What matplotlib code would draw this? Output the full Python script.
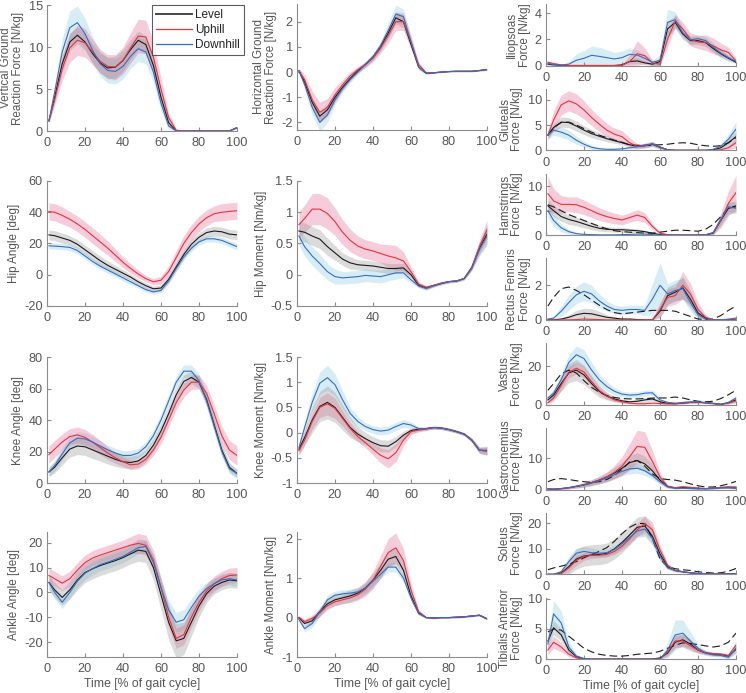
import numpy as np
import matplotlib
matplotlib.use("Agg")
import matplotlib.pyplot as plt

plt.rcParams['font.family'] = ['Liberation Sans', 'DejaVu Sans']
plt.rcParams['axes.unicode_minus'] = False

# ---------------- data (x = % gait cycle) ----------------
gait_x = [1, 4, 8, 12, 16, 20, 24, 28, 32, 36, 40, 44, 48, 52, 56, 60, 64, 68, 72, 76, 80, 84, 88, 92, 96, 100]

# Vertical GRF
vgrf_level = [1.2, 4.0, 8.0, 10.6, 11.4, 10.6, 9.2, 8.1, 7.5, 7.6, 8.4, 9.7, 10.8, 10.3, 7.8, 4.0, 1.0, 0, 0, 0, 0, 0, 0, 0, 0, 0.4]
vgrf_up = [1.2, 3.7, 7.4, 9.9, 10.8, 10.5, 9.4, 8.3, 7.7, 7.6, 8.4, 9.9, 11.3, 11.2, 8.8, 5.0, 1.6, 0.1, 0, 0, 0, 0, 0, 0, 0, 0.4]
vgrf_down = [1.2, 4.6, 9.4, 12.3, 12.9, 11.6, 9.6, 8.0, 7.2, 7.1, 7.7, 8.9, 9.8, 9.4, 7.0, 3.3, 0.6, 0, 0, 0, 0, 0, 0, 0, 0, 0.4]
vgrf_level_sd = [0.2, 0.6, 1.0, 1.0, 1.0, 1.0, 1.1, 1.2, 1.3, 1.3, 1.3, 1.2, 1.1, 1.0, 1.0, 0.8, 0.4, 0, 0, 0, 0, 0, 0, 0, 0, 0.1]
vgrf_up_sd = [0.2, 0.7, 1.4, 1.7, 1.8, 1.7, 1.5, 1.4, 1.4, 1.5, 1.6, 1.8, 2.0, 2.0, 1.8, 1.3, 0.6, 0.1, 0, 0, 0, 0, 0, 0, 0, 0.1]
vgrf_down_sd = [0.2, 0.8, 1.6, 2.0, 2.0, 1.8, 1.6, 1.5, 1.5, 1.5, 1.5, 1.5, 1.5, 1.4, 1.2, 0.9, 0.4, 0, 0, 0, 0, 0, 0, 0, 0, 0.1]

# Horizontal GRF
hgrf_level = [0.05, -0.4, -1.2, -1.75, -1.5, -1.0, -0.6, -0.25, 0.05, 0.3, 0.6, 1.0, 1.55, 2.15, 2.0, 1.1, 0.2, -0.05, -0.03, 0.0, 0.02, 0.03, 0.03, 0.03, 0.06, 0.1]
hgrf_up = [0.05, -0.3, -1.1, -1.6, -1.4, -0.9, -0.5, -0.15, 0.1, 0.3, 0.55, 0.95, 1.45, 2.0, 2.0, 1.2, 0.3, -0.03, -0.03, 0.0, 0.02, 0.03, 0.03, 0.03, 0.06, 0.1]
hgrf_down = [0.05, -0.5, -1.4, -2.0, -1.7, -1.1, -0.65, -0.3, 0.0, 0.3, 0.6, 1.05, 1.65, 2.3, 2.2, 1.2, 0.2, -0.05, -0.03, 0.0, 0.02, 0.03, 0.03, 0.03, 0.06, 0.1]
hgrf_level_sd = [0.05, 0.1, 0.15, 0.2, 0.2, 0.15, 0.12, 0.1, 0.1, 0.1, 0.12, 0.15, 0.2, 0.25, 0.25, 0.2, 0.1, 0.03, 0.02, 0.02, 0.02, 0.02, 0.02, 0.02, 0.02, 0.03]
hgrf_up_sd = [0.1, 0.2, 0.35, 0.4, 0.35, 0.3, 0.2, 0.15, 0.12, 0.12, 0.15, 0.2, 0.3, 0.35, 0.35, 0.25, 0.1, 0.03, 0.02, 0.02, 0.02, 0.02, 0.02, 0.02, 0.02, 0.03]
hgrf_down_sd = [0.05, 0.15, 0.3, 0.35, 0.3, 0.2, 0.15, 0.12, 0.1, 0.1, 0.12, 0.18, 0.3, 0.35, 0.3, 0.2, 0.1, 0.03, 0.02, 0.02, 0.02, 0.02, 0.02, 0.02, 0.02, 0.03]

# Hip angle
hipang_level = [25.5, 25, 23.5, 22, 19.5, 16, 12.5, 9, 6, 3.5, 1, -1.5, -4.5, -7, -9, -8.5, -3, 5, 13, 19.5, 24, 27, 28, 27.5, 26, 25.5]
hipang_up = [40.5, 40, 38, 35.5, 32.5, 29, 25, 21, 17, 12.5, 8, 4, 0.5, -2.5, -4.5, -3.5, 2, 11, 20, 27, 32.5, 36.5, 39, 40, 40.5, 41]
hipang_down = [18.5, 18.3, 18, 17.5, 15.5, 12, 8.5, 5.5, 3, 0.5, -2, -4.5, -7, -9.5, -11, -10, -4, 4, 11.5, 17, 21, 23, 23, 22, 20, 18]
hipang_level_sd = [3.2, 3.2, 3.2, 3.0, 3.0, 3.0, 3.0, 3.0, 2.8, 2.5, 2.2, 2.0, 1.8, 1.8, 1.8, 2.0, 2.2, 2.5, 2.8, 3.0, 3.0, 3.0, 3.0, 3.0, 3.0, 3.0]
hipang_up_sd = [5.5, 5.5, 5.5, 5.0, 5.0, 5.0, 5.0, 5.0, 4.5, 4.0, 3.5, 3.0, 2.5, 2.0, 2.0, 2.5, 3.5, 4.5, 5.0, 5.0, 5.0, 5.0, 5.0, 5.5, 5.5, 5.5]
hipang_down_sd = [2.0, 2.0, 2.0, 2.0, 2.0, 2.0, 2.0, 2.0, 2.0, 2.0, 2.0, 1.8, 1.5, 1.5, 1.5, 1.5, 1.8, 2.0, 2.0, 2.0, 2.0, 2.0, 2.0, 2.0, 2.0, 2.0]

# Hip moment
hipmom_level = [0.7, 0.68, 0.62, 0.57, 0.45, 0.35, 0.25, 0.19, 0.16, 0.15, 0.14, 0.12, 0.1, 0.1, 0.11, 0.0, -0.17, -0.21, -0.17, -0.14, -0.11, -0.1, -0.06, 0.12, 0.42, 0.65]
hipmom_up = [0.8, 0.9, 1.05, 1.05, 0.98, 0.85, 0.68, 0.55, 0.46, 0.41, 0.38, 0.34, 0.3, 0.27, 0.22, 0.05, -0.15, -0.2, -0.17, -0.13, -0.11, -0.1, -0.06, 0.12, 0.45, 0.72]
hipmom_down = [0.62, 0.45, 0.3, 0.18, 0.05, -0.03, -0.05, -0.04, -0.03, -0.01, -0.02, -0.03, 0.0, 0.03, 0.03, -0.08, -0.18, -0.22, -0.18, -0.14, -0.11, -0.1, -0.06, 0.1, 0.4, 0.62]
hipmom_level_sd = [0.15, 0.15, 0.15, 0.15, 0.14, 0.12, 0.1, 0.1, 0.08, 0.08, 0.08, 0.08, 0.08, 0.08, 0.07, 0.05, 0.03, 0.03, 0.02, 0.02, 0.02, 0.02, 0.02, 0.04, 0.1, 0.15]
hipmom_up_sd = [0.2, 0.22, 0.25, 0.25, 0.25, 0.22, 0.2, 0.18, 0.16, 0.15, 0.15, 0.15, 0.18, 0.2, 0.15, 0.08, 0.04, 0.03, 0.02, 0.02, 0.02, 0.02, 0.02, 0.04, 0.1, 0.15]
hipmom_down_sd = [0.15, 0.15, 0.15, 0.15, 0.13, 0.12, 0.1, 0.1, 0.1, 0.1, 0.1, 0.1, 0.1, 0.1, 0.08, 0.05, 0.03, 0.03, 0.02, 0.02, 0.02, 0.02, 0.02, 0.04, 0.1, 0.15]

# Knee angle
kneeang_level = [7, 10, 16, 21.5, 23.5, 23, 21, 19, 17, 15, 13.5, 13, 14, 17.5, 24, 33, 44, 56, 64.5, 67, 64, 53, 37, 21, 10, 6]
kneeang_up = [18, 21.5, 26, 29.5, 30.5, 29, 26, 22.5, 19, 16, 13.5, 11.5, 12, 15, 21, 29, 40, 51, 59, 64, 64, 57, 44, 30, 21, 17.5]
kneeang_down = [7, 11, 18.5, 25.5, 28.5, 28, 26, 23.5, 21, 19, 17.5, 17.5, 19, 23, 30, 40, 52, 64, 71, 71, 65, 52, 36, 20, 9, 6]
kneeang_level_sd = [3.0, 3.5, 4.5, 5.0, 5.5, 5.5, 5.5, 5.0, 5.0, 4.5, 4.0, 4.0, 4.0, 4.0, 4.0, 4.0, 4.0, 4.0, 4.0, 4.0, 4.0, 4.0, 4.0, 3.5, 3.0, 2.5]
kneeang_up_sd = [5.5, 5.5, 5.0, 5.0, 5.0, 5.0, 5.0, 4.5, 4.0, 3.5, 3.0, 3.0, 3.0, 3.0, 3.5, 4.0, 4.5, 4.5, 4.5, 4.5, 4.5, 5.0, 5.5, 6.0, 6.0, 6.0]
kneeang_down_sd = [3.0, 3.5, 4.0, 4.0, 4.0, 4.0, 3.5, 3.5, 3.0, 3.0, 3.0, 3.0, 3.0, 3.0, 3.5, 4.0, 4.0, 4.0, 4.0, 4.0, 4.0, 4.0, 4.0, 3.5, 3.0, 3.0]

# Knee moment
kneemom_level = [-0.33, -0.1, 0.25, 0.52, 0.6, 0.5, 0.3, 0.1, -0.03, -0.12, -0.2, -0.26, -0.27, -0.18, -0.05, 0.04, 0.07, 0.08, 0.1, 0.09, 0.06, 0.02, -0.03, -0.15, -0.35, -0.36]
kneemom_up = [-0.36, -0.15, 0.22, 0.5, 0.57, 0.48, 0.28, 0.08, -0.08, -0.2, -0.33, -0.45, -0.52, -0.4, -0.15, 0.02, 0.05, 0.07, 0.1, 0.09, 0.06, 0.02, -0.03, -0.15, -0.35, -0.37]
kneemom_down = [-0.3, 0.1, 0.6, 0.98, 1.09, 0.95, 0.65, 0.38, 0.22, 0.12, 0.06, 0.03, 0.05, 0.12, 0.18, 0.15, 0.08, 0.08, 0.1, 0.09, 0.06, 0.02, -0.03, -0.15, -0.35, -0.35]
kneemom_level_sd = [0.1, 0.15, 0.25, 0.3, 0.33, 0.3, 0.25, 0.2, 0.15, 0.12, 0.12, 0.12, 0.12, 0.1, 0.08, 0.06, 0.04, 0.03, 0.03, 0.03, 0.03, 0.03, 0.03, 0.04, 0.06, 0.08]
kneemom_up_sd = [0.1, 0.1, 0.15, 0.2, 0.22, 0.2, 0.15, 0.12, 0.1, 0.1, 0.12, 0.15, 0.18, 0.18, 0.12, 0.06, 0.04, 0.03, 0.03, 0.03, 0.03, 0.03, 0.03, 0.04, 0.06, 0.08]
kneemom_down_sd = [0.1, 0.12, 0.18, 0.22, 0.25, 0.22, 0.18, 0.12, 0.1, 0.08, 0.08, 0.08, 0.08, 0.08, 0.08, 0.06, 0.04, 0.03, 0.03, 0.03, 0.03, 0.03, 0.03, 0.04, 0.06, 0.08]

# Ankle angle
ankang_level = [4, 1, -2, 1, 5, 8, 9.5, 10.8, 11.8, 12.8, 14, 15.5, 17, 16.5, 10, -1, -12, -19.5, -18.5, -12, -5.5, -0.5, 2.5, 4, 5, 4.7]
ankang_up = [6.8, 5.5, 3.7, 5.5, 9, 12, 13.8, 15, 16, 17, 18, 19, 19.7, 19, 13, 2, -10, -18.5, -17, -10, -4, 0.5, 3.5, 5.5, 6.8, 7]
ankang_down = [4, 0, -4, 0, 4.5, 7.7, 9.6, 11.2, 12.2, 13.3, 14.5, 16.2, 18, 18.5, 12, 2, -7, -12, -11, -6, -1.5, 1.5, 3.5, 5, 5.5, 5]
ankang_level_sd = [3, 3, 3, 3.5, 4, 4, 4, 4, 4, 4, 4, 4, 4.5, 4.5, 5, 6, 7, 7, 6.5, 5.5, 4.5, 3.5, 3, 3, 3, 3]
ankang_up_sd = [3, 3, 3, 3, 3, 3, 3, 3, 3, 3, 3, 3.5, 4, 4, 4, 4, 4, 4, 4, 4, 3.5, 3, 3, 3, 3, 3]
ankang_down_sd = [2.5, 2.5, 2.5, 2.5, 2.5, 2.5, 2.5, 2.5, 2.5, 2.5, 2.5, 2.5, 2.5, 2.5, 3, 3.5, 4, 4, 4, 3.5, 3, 2.5, 2.5, 2.5, 2.5, 2.5]

# Ankle moment
ankmom_level = [0, -0.15, -0.08, 0.15, 0.35, 0.45, 0.5, 0.55, 0.62, 0.75, 0.95, 1.2, 1.48, 1.55, 1.2, 0.55, 0.12, 0.0, -0.01, 0.0, 0.0, 0.01, 0.02, 0.04, 0.06, -0.03]
ankmom_up = [0.0, -0.1, -0.02, 0.12, 0.3, 0.4, 0.45, 0.5, 0.58, 0.72, 0.95, 1.3, 1.65, 1.77, 1.45, 0.7, 0.15, 0.0, -0.01, 0.0, 0.0, 0.01, 0.02, 0.04, 0.06, -0.03]
ankmom_down = [-0.05, -0.28, -0.15, 0.15, 0.45, 0.57, 0.6, 0.62, 0.65, 0.75, 0.92, 1.1, 1.28, 1.28, 1.0, 0.5, 0.1, 0.0, -0.01, 0.0, 0.0, 0.01, 0.02, 0.04, 0.06, -0.03]
ankmom_level_sd = [0.05, 0.06, 0.08, 0.1, 0.12, 0.14, 0.15, 0.15, 0.15, 0.16, 0.18, 0.2, 0.2, 0.2, 0.18, 0.12, 0.05, 0.02, 0.02, 0.02, 0.02, 0.02, 0.02, 0.02, 0.02, 0.03]
ankmom_up_sd = [0.05, 0.06, 0.08, 0.1, 0.1, 0.1, 0.1, 0.12, 0.14, 0.18, 0.22, 0.28, 0.35, 0.38, 0.3, 0.15, 0.05, 0.02, 0.02, 0.02, 0.02, 0.02, 0.02, 0.02, 0.02, 0.03]
ankmom_down_sd = [0.05, 0.08, 0.1, 0.12, 0.12, 0.1, 0.1, 0.1, 0.1, 0.1, 0.1, 0.12, 0.12, 0.12, 0.1, 0.08, 0.04, 0.02, 0.02, 0.02, 0.02, 0.02, 0.02, 0.02, 0.02, 0.03]

# Iliopsoas
ilio_level = [0.1, 0.05, 0.02, 0, 0, 0, 0, 0, 0, 0, 0.05, 0.3, 0.35, 0.2, 0.1, 0.3, 2.8, 3.3, 2.4, 1.9, 1.9, 1.75, 1.3, 0.9, 0.55, 0.25]
ilio_up = [0.25, 0.15, 0.05, 0, 0, 0, 0, 0, 0, 0, 0.02, 0.3, 0.9, 0.75, 0.2, 0.1, 2.0, 3.4, 2.8, 2.0, 1.8, 1.75, 1.5, 1.2, 1.0, 0.35]
ilio_down = [0.15, 0.08, 0.02, 0.1, 0.4, 0.55, 0.78, 0.7, 0.6, 0.5, 0.6, 0.85, 0.8, 0.55, 0.25, 0.4, 3.3, 3.5, 2.5, 1.95, 2.05, 1.9, 1.4, 0.95, 0.6, 0.3]
ilio_level_sd = [0.05, 0.05, 0.02, 0, 0, 0, 0, 0, 0, 0, 0.05, 0.2, 0.2, 0.15, 0.1, 0.3, 0.6, 0.5, 0.4, 0.3, 0.3, 0.3, 0.3, 0.3, 0.2, 0.1]
ilio_up_sd = [0.1, 0.05, 0.02, 0, 0, 0, 0, 0, 0, 0, 0.05, 0.5, 1.0, 0.6, 0.2, 0.2, 0.6, 0.5, 0.5, 0.5, 0.5, 0.6, 0.6, 0.5, 0.4, 0.2]
ilio_down_sd = [0.1, 0.05, 0.05, 0.2, 0.5, 0.6, 0.7, 0.7, 0.6, 0.5, 0.5, 0.5, 0.4, 0.3, 0.2, 0.4, 1.0, 0.6, 0.4, 0.3, 0.3, 0.3, 0.3, 0.3, 0.2, 0.1]

# Gluteals
glut_level = [3.0, 4.5, 5.6, 5.5, 4.8, 4.0, 3.3, 2.8, 2.3, 1.9, 1.5, 1.1, 0.8, 0.9, 1.2, 0.6, 0.1, 0, 0, 0, 0, 0, 0.1, 0.5, 1.5, 2.7]
glut_up = [3.0, 6.0, 9.0, 9.8, 9.2, 8.0, 6.5, 5.2, 4.0, 3.2, 2.7, 1.5, 0.8, 0.9, 1.3, 0.6, 0.1, 0, 0, 0, 0, 0, 0, 0.1, 0.5, 1.5]
glut_down = [3.0, 4.0, 3.6, 3.0, 2.0, 1.2, 0.6, 0.3, 0.2, 0.2, 0.3, 0.5, 0.7, 1.0, 1.3, 0.6, 0.1, 0, 0, 0, 0, 0, 0.2, 0.8, 2.2, 4.2]
glut_emg = [3.0, 4.5, 5.5, 5.6, 5.0, 4.3, 3.6, 3.0, 2.5, 2.0, 1.6, 1.1, 1.0, 1.0, 1.0, 1.1, 1.2, 1.4, 1.5, 1.4, 1.1, 0.9, 0.8, 0.9, 1.5, 2.5]
glut_level_sd = [0.5, 0.8, 1.0, 1.0, 1.0, 0.9, 0.8, 0.7, 0.6, 0.5, 0.4, 0.3, 0.3, 0.4, 0.5, 0.3, 0.1, 0, 0, 0, 0, 0, 0.1, 0.3, 0.8, 1.0]
glut_up_sd = [1.0, 1.8, 2.0, 2.0, 2.0, 1.8, 1.6, 1.5, 1.3, 1.2, 1.2, 1.0, 0.5, 0.4, 0.4, 0.3, 0.1, 0, 0, 0, 0, 0, 0, 0.1, 0.4, 1.0]
glut_down_sd = [0.8, 1.0, 1.0, 1.0, 0.8, 0.6, 0.4, 0.3, 0.2, 0.2, 0.2, 0.3, 0.4, 0.5, 0.5, 0.3, 0.1, 0, 0, 0, 0, 0, 0.2, 0.5, 1.0, 1.5]

# Hamstrings
ham_level = [6.0, 5.0, 3.8, 3.2, 2.8, 2.3, 1.8, 1.4, 1.2, 1.1, 1.1, 1.0, 0.9, 0.7, 0.4, 0.1, 0, 0, 0, 0, 0, 0.05, 0.4, 3.0, 5.5, 5.8]
ham_up = [8.5, 7.0, 6.3, 6.3, 6.2, 5.7, 5.0, 4.3, 3.8, 3.4, 3.1, 3.6, 4.1, 3.6, 1.8, 0.4, 0.1, 0, 0, 0, 0, 0.05, 0.5, 3.0, 6.5, 8.7]
ham_down = [5.0, 3.0, 1.5, 0.7, 0.3, 0.15, 0.1, 0.05, 0.05, 0.05, 0.1, 0.15, 0.2, 0.2, 0.1, 0, 0, 0, 0, 0, 0, 0.05, 0.5, 3.2, 5.8, 5.5]
ham_emg = [6.2, 5.8, 5.0, 4.2, 3.6, 3.0, 2.4, 1.8, 1.3, 0.9, 0.7, 0.6, 0.5, 0.4, 0.4, 0.6, 0.8, 1.0, 1.0, 0.9, 0.8, 1.2, 2.2, 3.8, 5.5, 6.0]
ham_level_sd = [1.2, 1.2, 1.0, 1.0, 0.9, 0.8, 0.7, 0.6, 0.5, 0.5, 0.5, 0.4, 0.4, 0.3, 0.2, 0.1, 0, 0, 0, 0, 0, 0.05, 0.3, 1.0, 1.2, 1.2]
ham_up_sd = [3.5, 2.5, 1.8, 1.5, 1.6, 1.5, 1.4, 1.3, 1.2, 1.1, 1.0, 1.0, 1.1, 1.0, 0.6, 0.2, 0.1, 0, 0, 0, 0, 0.05, 0.4, 1.5, 2.5, 3.5]
ham_down_sd = [1.5, 1.2, 0.8, 0.5, 0.3, 0.15, 0.1, 0.05, 0.05, 0.05, 0.1, 0.1, 0.1, 0.1, 0.05, 0, 0, 0, 0, 0, 0, 0.05, 0.4, 1.0, 1.0, 1.0]

# Rectus femoris
rf_level = [0, 0, 0.05, 0.15, 0.3, 0.38, 0.35, 0.25, 0.15, 0.1, 0.05, 0.05, 0.02, 0.0, 0.0, 0.5, 1.4, 1.6, 1.85, 1.2, 0.4, 0.1, 0, 0, 0, 0.02]
rf_up = [0, 0, 0, 0, 0.02, 0.05, 0.03, 0.02, 0, 0, 0, 0, 0, 0, 0.0, 0.6, 1.3, 1.4, 2.0, 1.5, 0.6, 0.15, 0.0, 0, 0, 0.02]
rf_down = [0.05, 0.1, 0.5, 1.0, 1.45, 1.65, 1.5, 1.1, 0.8, 0.6, 0.55, 0.6, 0.6, 0.55, 1.2, 2.0, 1.5, 1.7, 1.8, 1.0, 0.3, 0.05, 0, 0, 0.05, 0.1]
rf_emg = [0.8, 1.3, 1.8, 1.9, 1.7, 1.45, 1.15, 0.85, 0.6, 0.42, 0.35, 0.4, 0.45, 0.5, 0.55, 0.55, 0.55, 0.5, 0.35, 0.2, 0.05, 0.02, 0.05, 0.25, 0.55, 0.8]
rf_level_sd = [0, 0, 0.05, 0.15, 0.25, 0.3, 0.3, 0.25, 0.15, 0.1, 0.05, 0.05, 0.02, 0.0, 0.05, 0.4, 0.5, 0.5, 0.65, 0.5, 0.3, 0.1, 0, 0, 0, 0.02]
rf_up_sd = [0, 0, 0, 0, 0.02, 0.05, 0.03, 0.02, 0, 0, 0, 0, 0, 0, 0.05, 0.4, 0.5, 0.5, 0.8, 0.6, 0.4, 0.15, 0.05, 0, 0, 0.02]
rf_down_sd = [0.05, 0.1, 0.3, 0.45, 0.5, 0.55, 0.5, 0.4, 0.3, 0.25, 0.25, 0.25, 0.25, 0.3, 0.9, 1.3, 0.6, 0.6, 0.6, 0.5, 0.2, 0.05, 0, 0, 0.05, 0.1]

# Vastus
vas_level = [2.5, 5, 11, 16.5, 18, 15.5, 11, 7, 4.5, 3, 2, 1.5, 1.8, 2.5, 3.0, 1.5, 0.7, 0.5, 0.8, 1.2, 1.3, 1.0, 0.6, 0.2, 1.0, 2.5]
vas_up = [1.0, 3.5, 10, 17, 19, 17, 12, 7.5, 4.5, 2.5, 1.5, 0.8, 0.5, 0.5, 0.8, 0.6, 0.4, 0.5, 0.8, 1.2, 1.3, 1.0, 0.6, 0.2, 0.8, 2.0]
vas_down = [3.5, 6, 13, 22, 26, 24, 18, 13, 9.5, 7, 5.5, 5.0, 5.2, 6.0, 6.2, 2.5, 1.2, 0.8, 1.2, 1.5, 1.5, 1.2, 0.8, 0.3, 1.2, 3.5]
vas_emg = [7.5, 11, 16, 18, 16.5, 12.5, 9, 6.5, 4.8, 3.8, 3.2, 3.0, 3.0, 3.2, 3.4, 3.5, 3.5, 4.0, 3.5, 2.5, 1.8, 1.5, 1.8, 3.2, 5.2, 7.5]
vas_level_sd = [1.5, 2.5, 4.0, 5.0, 5.5, 5.0, 4.0, 3.0, 2.0, 1.5, 1.0, 0.8, 1.0, 1.2, 1.2, 0.8, 0.4, 0.3, 0.4, 0.5, 0.5, 0.4, 0.3, 0.2, 0.6, 1.2]
vas_up_sd = [0.8, 1.5, 2.5, 3.0, 3.0, 3.0, 2.5, 2.0, 1.5, 1.0, 0.6, 0.4, 0.3, 0.3, 0.4, 0.3, 0.2, 0.3, 0.4, 0.5, 0.5, 0.4, 0.3, 0.2, 0.5, 1.0]
vas_down_sd = [1.5, 2.0, 3.0, 4.0, 4.5, 4.5, 4.0, 3.0, 2.5, 2.0, 1.5, 1.5, 1.5, 1.5, 1.5, 1.0, 0.5, 0.4, 0.5, 0.5, 0.5, 0.4, 0.3, 0.2, 0.6, 1.5]

# Gastrocnemius
gas_level = [0.2, 0.1, 0.3, 0.6, 1.0, 1.5, 2.2, 3.0, 4.0, 5.3, 6.8, 8.6, 9.3, 8.2, 6.0, 3.0, 1.0, 0.5, 0.6, 0.5, 0.4, 0.3, 0.4, 0.6, 0.6, 0.5]
gas_up = [0.2, 0.1, 0.2, 0.5, 1.0, 1.5, 2.2, 3.0, 4.0, 5.5, 7.5, 10.5, 13.8, 13.5, 9.0, 4.0, 1.0, 0.6, 0.9, 0.7, 0.4, 0.3, 0.4, 0.7, 0.9, 0.8]
gas_down = [0.2, 0.1, 0.3, 0.6, 1.0, 1.4, 2.0, 2.8, 3.7, 4.8, 5.8, 6.6, 6.8, 6.0, 4.5, 2.5, 0.8, 0.4, 0.4, 0.3, 0.2, 0.2, 0.3, 0.5, 0.6, 0.5]
gas_emg = [2.5, 3.2, 3.5, 3.2, 2.8, 2.5, 2.3, 2.5, 3.2, 4.5, 6.5, 8.8, 9.3, 7.5, 5.0, 3.5, 3.2, 3.0, 2.5, 1.8, 1.2, 0.8, 0.8, 1.2, 1.8, 2.6]
gas_level_sd = [0.1, 0.1, 0.2, 0.4, 0.6, 0.8, 1.0, 1.2, 1.5, 1.8, 2.0, 2.3, 2.5, 2.5, 2.0, 1.2, 0.5, 0.3, 0.3, 0.3, 0.3, 0.3, 0.3, 0.3, 0.3, 0.3]
gas_up_sd = [0.1, 0.1, 0.2, 0.3, 0.5, 0.7, 0.9, 1.2, 1.6, 2.2, 3.0, 4.2, 5.2, 5.0, 3.5, 1.5, 0.5, 0.3, 0.4, 0.3, 0.2, 0.2, 0.2, 0.3, 0.4, 0.4]
gas_down_sd = [0.1, 0.1, 0.2, 0.3, 0.4, 0.5, 0.6, 0.8, 1.0, 1.2, 1.4, 1.6, 1.6, 1.5, 1.2, 0.8, 0.3, 0.2, 0.2, 0.2, 0.1, 0.1, 0.2, 0.2, 0.3, 0.3]

# Soleus
sol_level = [0, 0, 0.5, 3.0, 6.0, 7.2, 7.6, 7.8, 8.3, 10, 12.5, 15.5, 18.5, 19.0, 15, 8.0, 3.0, 1.5, 1.0, 0.6, 0.3, 0.2, 0.1, 0.1, 0.2, 0.3]
sol_up = [0, 0, 0.3, 2.5, 5.5, 7.0, 7.5, 7.5, 7.8, 9.0, 11, 14, 17.5, 20.0, 17.5, 9.5, 3.5, 1.5, 1.0, 0.6, 0.3, 0.2, 0.1, 0.1, 0.2, 0.3]
sol_down = [0, 0, 1.0, 5.0, 8.3, 9.0, 8.5, 8.3, 8.5, 9.8, 12, 14.5, 17, 17.8, 14, 7.0, 2.5, 1.5, 1.0, 0.6, 0.3, 0.2, 0.1, 0.1, 0.2, 0.3]
sol_emg = [1.8, 2.5, 3.2, 4.0, 5.0, 6.5, 7.8, 9.0, 10.5, 13, 16, 18.5, 20, 20, 14, 6, 3, 2.2, 1.8, 1.5, 1.0, 0.7, 0.5, 0.6, 1.2, 2.3]
sol_level_sd = [0, 0.2, 1.0, 3.0, 4.0, 4.0, 4.0, 4.0, 4.0, 4.0, 4.0, 4.0, 4.0, 4.0, 3.5, 2.5, 1.0, 0.5, 0.3, 0.2, 0.2, 0.1, 0.1, 0.1, 0.1, 0.2]
sol_up_sd = [0, 0.1, 0.5, 1.5, 2.0, 1.5, 1.2, 1.0, 1.0, 1.2, 1.5, 2.0, 2.5, 3.0, 3.0, 2.0, 0.8, 0.4, 0.3, 0.2, 0.2, 0.1, 0.1, 0.1, 0.1, 0.2]
sol_down_sd = [0, 0.2, 1.0, 2.0, 2.0, 2.0, 1.8, 1.5, 1.5, 1.5, 1.5, 1.8, 2.0, 2.0, 2.0, 1.5, 0.6, 0.4, 0.3, 0.2, 0.2, 0.1, 0.1, 0.1, 0.1, 0.2]

# Tibialis anterior
ta_level = [3.0, 5.2, 4.0, 1.5, 0.4, 0.05, 0, 0, 0, 0, 0, 0, 0, 0, 0, 0.2, 1.0, 2.8, 3.2, 2.5, 1.5, 1.0, 0.8, 0.8, 0.5, 1.6]
ta_up = [1.5, 2.8, 2.0, 0.8, 0.2, 0, 0, 0, 0, 0, 0, 0, 0, 0, 0, 0, 1.2, 3.0, 3.0, 2.2, 1.5, 1.1, 0.9, 0.8, 0.6, 2.3]
ta_down = [2.5, 7.5, 6.0, 2.0, 0.5, 0.1, 0, 0, 0, 0, 0, 0, 0, 0, 0, 0, 1.5, 4.0, 4.3, 3.0, 1.8, 1.0, 0.7, 0.6, 0.3, 1.8]
ta_emg = [4.5, 5.0, 4.8, 3.8, 2.8, 1.8, 1.2, 0.8, 0.6, 0.5, 0.5, 0.6, 0.8, 0.9, 1.0, 1.3, 1.8, 2.3, 2.7, 2.6, 2.4, 2.2, 2.0, 2.2, 2.8, 4.3]
ta_level_sd = [1.0, 1.2, 1.0, 0.6, 0.2, 0.05, 0, 0, 0, 0, 0, 0, 0, 0, 0, 0.2, 0.6, 1.0, 1.0, 0.8, 0.5, 0.3, 0.3, 0.3, 0.3, 0.6]
ta_up_sd = [0.8, 1.0, 0.8, 0.4, 0.1, 0, 0, 0, 0, 0, 0, 0, 0, 0, 0, 0, 0.5, 1.0, 1.0, 0.8, 0.5, 0.3, 0.3, 0.3, 0.3, 0.6]
ta_down_sd = [1.0, 2.2, 2.0, 1.0, 0.3, 0.05, 0, 0, 0, 0, 0, 0, 0, 0, 0, 0, 1.2, 2.5, 2.2, 1.5, 0.8, 0.4, 0.3, 0.3, 0.3, 0.8]

condition_names = ['Level', 'Uphill', 'Downhill']

# ---------------- style ----------------
C_LINE = {'Level': '#1a1a1a', 'Uphill': '#e8323c', 'Downhill': '#3a6cc0'}
C_BAND = {'Level': '#8a8a8a', 'Uphill': '#e4588a', 'Downhill': '#7ac6de'}
BAND_ALPHA = 0.3
AX_COL = '#8c8c8c'
TXT_COL = '#555555'
TICK_FS = 9.2
LAB_FS = 8.4

W, H = 746, 693
fig = plt.figure(figsize=(W / 100, H / 100), dpi=100)


def make_ax(left, top, right, bottom):
    ax = fig.add_axes([left / W, 1 - bottom / H, (right - left) / W, (bottom - top) / H])
    for s in ('top', 'right'):
        ax.spines[s].set_visible(False)
    for s in ('left', 'bottom'):
        ax.spines[s].set_color(AX_COL)
        ax.spines[s].set_linewidth(0.8)
    ax.tick_params(direction='in', length=3, width=0.8, color=AX_COL,
                   labelcolor=TXT_COL, labelsize=TICK_FS)
    ax.tick_params(axis='x', pad=4.5)
    ax.tick_params(axis='y', pad=3)
    ax.set_xlim(0, 100)
    ax.set_xticks([0, 20, 40, 60, 80, 100])
    ax.patch.set_alpha(0)
    return ax


def draw(ax, series, sds, emg=None, clip0=False):
    x = np.array(gait_x)
    for name in ['Downhill', 'Uphill', 'Level']:
        m = np.array(series[name], float)
        s = np.array(sds[name], float)
        lo = m - s
        if clip0:
            lo = np.clip(lo, 0, None)
        ax.fill_between(x, lo, m + s, color=C_BAND[name], alpha=BAND_ALPHA, lw=0)
    if emg is not None:
        ax.plot(x, emg, color='#1a1a1a', lw=0.8, dashes=(7, 3.5))
    for name in ['Level', 'Uphill', 'Downhill']:
        ax.plot(x, series[name], color=C_LINE[name], lw=0.8, label=name)


def ylab(ax, text):
    ax.set_ylabel(text, fontsize=LAB_FS, color=TXT_COL, linespacing=1.05, labelpad=3)


def xlab(ax):
    ax.set_xlabel('Time [% of gait cycle]', fontsize=LAB_FS + 0.4, color=TXT_COL, labelpad=2)


# ---------------- column 1 & 2 ----------------
rows12 = [(5, 131), (181, 306), (357, 483), (532, 657)]
c1 = (47, 237)
c2 = (297, 487)

ax = make_ax(c1[0], rows12[0][0], c1[1], rows12[0][1])
draw(ax, {'Level': vgrf_level, 'Uphill': vgrf_up, 'Downhill': vgrf_down},
     {'Level': vgrf_level_sd, 'Uphill': vgrf_up_sd, 'Downhill': vgrf_down_sd})
ax.set_ylim(0, 15); ax.set_yticks([0, 5, 10, 15])
ylab(ax, 'Vertical Ground\nReaction Force [N/kg]')
handles = [plt.Line2D([], [], color=C_LINE['Level'], lw=1.4, alpha=0.8),
           plt.Line2D([], [], color=C_LINE['Uphill'], lw=0.9),
           plt.Line2D([], [], color=C_LINE['Downhill'], lw=0.9)]
leg = fig.legend(handles, condition_names, loc='upper right',
                 bbox_to_anchor=(244 / W, 1 - 5 / H), fontsize=8.5,
                 frameon=True, fancybox=False, handlelength=3.0,
                 handletextpad=0.3, borderpad=0.35, labelspacing=0.25,
                 borderaxespad=0)
leg.get_frame().set_edgecolor('#333333')
leg.get_frame().set_linewidth(0.8)
for t in leg.get_texts():
    t.set_color('#222222')

ax = make_ax(c1[0], rows12[1][0], c1[1], rows12[1][1])
draw(ax, {'Level': hipang_level, 'Uphill': hipang_up, 'Downhill': hipang_down},
     {'Level': hipang_level_sd, 'Uphill': hipang_up_sd, 'Downhill': hipang_down_sd})
ax.set_ylim(-20, 60); ax.set_yticks([-20, 0, 20, 40, 60])
ylab(ax, 'Hip Angle [deg]')

ax = make_ax(c1[0], rows12[2][0], c1[1], rows12[2][1])
draw(ax, {'Level': kneeang_level, 'Uphill': kneeang_up, 'Downhill': kneeang_down},
     {'Level': kneeang_level_sd, 'Uphill': kneeang_up_sd, 'Downhill': kneeang_down_sd})
ax.set_ylim(0, 80); ax.set_yticks([0, 20, 40, 60, 80])
ylab(ax, 'Knee Angle [deg]')

ax = make_ax(c1[0], rows12[3][0], c1[1], rows12[3][1])
draw(ax, {'Level': ankang_level, 'Uphill': ankang_up, 'Downhill': ankang_down},
     {'Level': ankang_level_sd, 'Uphill': ankang_up_sd, 'Downhill': ankang_down_sd})
ax.set_ylim(-26, 24.3); ax.set_yticks([-20, -10, 0, 10, 20])
ylab(ax, 'Ankle Angle [deg]')
xlab(ax)

ax = make_ax(c2[0], rows12[0][0] - 1, c2[1], rows12[0][1] - 1)
draw(ax, {'Level': hgrf_level, 'Uphill': hgrf_up, 'Downhill': hgrf_down},
     {'Level': hgrf_level_sd, 'Uphill': hgrf_up_sd, 'Downhill': hgrf_down_sd})
ax.set_ylim(-2.3, 2.7); ax.set_yticks([-2, -1, 0, 1, 2])
ylab(ax, 'Horizontal Ground\nReaction Force [N/kg]')

ax = make_ax(c2[0], rows12[1][0], c2[1], rows12[1][1])
draw(ax, {'Level': hipmom_level, 'Uphill': hipmom_up, 'Downhill': hipmom_down},
     {'Level': hipmom_level_sd, 'Uphill': hipmom_up_sd, 'Downhill': hipmom_down_sd})
ax.set_ylim(-0.5, 1.5); ax.set_yticks([-0.5, 0, 0.5, 1, 1.5])
ax.set_yticklabels(['-0.5', '0', '0.5', '1', '1.5'])
ylab(ax, 'Hip Moment [Nm/kg]')

ax = make_ax(c2[0], rows12[2][0], c2[1], rows12[2][1])
draw(ax, {'Level': kneemom_level, 'Uphill': kneemom_up, 'Downhill': kneemom_down},
     {'Level': kneemom_level_sd, 'Uphill': kneemom_up_sd, 'Downhill': kneemom_down_sd})
ax.set_ylim(-1, 1.5); ax.set_yticks([-1, -0.5, 0, 0.5, 1, 1.5])
ax.set_yticklabels(['-1', '-0.5', '0', '0.5', '1', '1.5'])
ylab(ax, 'Knee Moment [Nm/kg]')

ax = make_ax(c2[0], rows12[3][0], c2[1], rows12[3][1])
draw(ax, {'Level': ankmom_level, 'Uphill': ankmom_up, 'Downhill': ankmom_down},
     {'Level': ankmom_level_sd, 'Uphill': ankmom_up_sd, 'Downhill': ankmom_down_sd})
ax.set_ylim(-1, 2.17); ax.set_yticks([-1, 0, 1, 2])
ylab(ax, 'Ankle Moment [Nm/kg]')
xlab(ax)

# ---------------- column 3 (muscles) ----------------
c3 = (546, 736)
muscles = [
    ('Iliopsoas\nForce [N/kg]', ilio_level, ilio_up, ilio_down, None,
     ilio_level_sd, ilio_up_sd, ilio_down_sd, 4.7, [0, 2, 4]),
    ('Gluteals\nForce [N/kg]', glut_level, glut_up, glut_down, glut_emg,
     glut_level_sd, glut_up_sd, glut_down_sd, 12.2, [0, 5, 10]),
    ('Hamstrings\nForce [N/kg]', ham_level, ham_up, ham_down, ham_emg,
     ham_level_sd, ham_up_sd, ham_down_sd, 12.6, [0, 5, 10]),
    ('Rectus Femoris\nForce [N/kg]', rf_level, rf_up, rf_down, rf_emg,
     rf_level_sd, rf_up_sd, rf_down_sd, 3.55, [0, 2]),
    ('Vastus\nForce [N/kg]', vas_level, vas_up, vas_down, vas_emg,
     vas_level_sd, vas_up_sd, vas_down_sd, 32, [0, 20]),
    ('Gastrocnemius\nForce [N/kg]', gas_level, gas_up, gas_down, gas_emg,
     gas_level_sd, gas_up_sd, gas_down_sd, 19.7, [0, 10]),
    ('Soleus\nForce [N/kg]', sol_level, sol_up, sol_down, sol_emg,
     sol_level_sd, sol_up_sd, sol_down_sd, 24.2, [0, 10, 20]),
    ('Tibialis Anterior\nForce [N/kg]', ta_level, ta_up, ta_down, ta_emg,
     ta_level_sd, ta_up_sd, ta_down_sd, 10.2, [0, 5, 10]),
]
for i, (lab, lv, up, dn, emg, lsd, usd, dsd, ymax, yt) in enumerate(muscles):
    top = 4 + 84.8 * i
    ax = make_ax(c3[0], top, c3[1], top + 61.5)
    draw(ax, {'Level': lv, 'Uphill': up, 'Downhill': dn},
         {'Level': lsd, 'Uphill': usd, 'Downhill': dsd}, emg=emg, clip0=True)
    ax.set_ylim(0, ymax); ax.set_yticks(yt)
    ylab(ax, lab)
    if i == len(muscles) - 1:
        xlab(ax)

fig.savefig('out.png', dpi=100)
